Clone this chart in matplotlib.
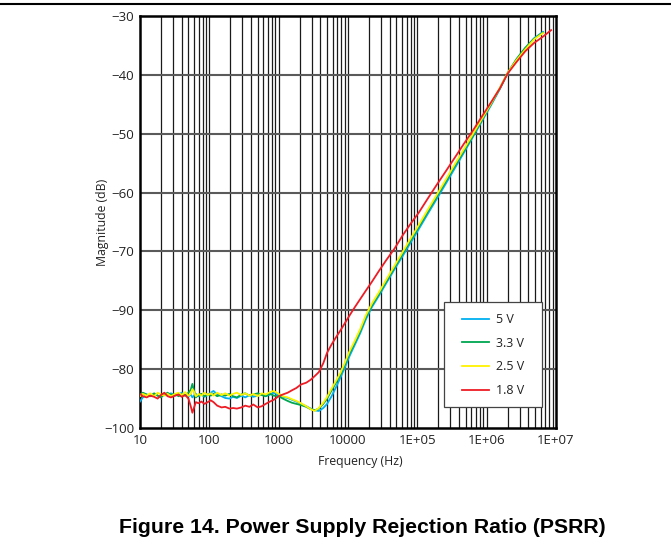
import numpy as np
import matplotlib
matplotlib.use("Agg")
import matplotlib.pyplot as plt
from matplotlib.lines import Line2D
from matplotlib.patches import Rectangle

# frequency grid (Hz)
freq = [10, 11, 12.5, 14, 16, 18, 20, 22.5, 25, 28, 32, 36, 40, 45, 50, 54, 57, 60, 64, 70,
        77, 85, 95, 105, 115, 130, 150, 170, 195, 220, 250, 290, 330, 380, 430, 500, 570, 650, 750, 850,
        1000, 1150, 1350, 1550, 1800, 2100, 2500, 2900, 3300, 3800, 4400, 5000, 5800, 6700, 7800, 9000,
        10500, 12500, 15000, 18000, 22000, 28000, 36000, 47000, 62000, 80000,
        1.05e5, 1.4e5, 1.9e5, 2.6e5, 3.5e5, 4.7e5, 6.3e5, 8.5e5, 1.15e6, 1.55e6,
        2.0e6, 2.7e6, 3.6e6, 4.8e6, 6.5e6, 8.5e6]

# magnitude, plotted on the chart's own (position) scale
v5 = [-95.5, -94.8, -94.3, -94.6, -94.2, -94.5, -94.7, -94.2, -94.4, -94.1, -94.5, -94.3, -94.0, -94.4, -94.6,
      -94.3, -94.8, -94.5, -94.2, -94.6, -94.3, -94.7, -94.4, -94.0, -93.7, -94.3, -94.6, -94.9, -95.0, -94.7,
      -94.9, -94.5, -94.8, -94.4, -94.7, -94.5, -94.2, -94.6, -94.3, -94.0, -94.4, -94.7, -94.9, -95.2, -95.5,
      -95.9, -96.3, -96.7, -97.0, -97.1, -96.6, -95.9, -94.6, -93.1, -91.4, -89.7, -87.8, -85.9, -83.9, -81.6,
      -79.5, -77.5, -75.3, -73.0, -70.7, -68.5, -66.2, -63.7, -61.1, -58.4, -55.8, -53.2, -50.6, -47.9, -45.2,
      -42.4, -39.8, -37.4, -35.5, -33.8, -32.7, np.nan]
v33 = [-94.4, -94.0, -94.3, -94.6, -94.1, -94.5, -94.8, -94.3, -94.0, -94.4, -94.2, -94.6, -94.3, -94.5, -94.0,
       -93.5, -92.5, -93.6, -94.8, -94.4, -94.2, -94.6, -94.3, -94.5, -94.2, -94.6, -94.3, -94.5, -94.2, -94.6,
       -94.8, -94.3, -94.1, -94.5, -94.3, -94.1, -94.4, -94.6, -94.2, -94.5, -94.6, -95.0, -95.4, -95.7, -95.9,
       -96.1, -96.4, -96.8, -97.0, -96.7, -95.9, -95.0, -93.6, -92.3, -90.9, -89.2, -87.3, -85.5, -83.5, -81.2,
       -79.2, -77.2, -75.0, -72.7, -70.3, -68.1, -65.8, -63.3, -60.7, -58.0, -55.4, -52.9, -50.4, -47.7, -45.0,
       -42.3, -39.7, -37.3, -35.4, -33.9, -32.8, np.nan]
v25 = [-94.6, -94.2, -94.5, -94.1, -94.6, -94.0, -94.3, -94.5, -94.2, -94.6, -94.2, -94.0, -94.4, -93.9, -94.5,
       -94.2, -93.4, -93.8, -94.6, -94.2, -94.5, -94.0, -94.4, -94.1, -94.5, -94.0, -94.4, -94.1, -94.5, -94.2,
       -94.0, -94.4, -94.1, -94.5, -94.2, -94.6, -94.1, -94.3, -93.9, -93.7, -94.2, -94.6, -94.8, -95.1, -95.4,
       -95.8, -96.3, -96.8, -97.1, -96.6, -95.7, -94.7, -93.3, -92.0, -90.6, -88.9, -87.0, -85.2, -83.2, -80.9,
       -78.9, -76.9, -74.7, -72.4, -70.0, -67.8, -65.5, -63.0, -60.4, -57.7, -55.1, -52.6, -50.1, -47.5, -44.9,
       -42.2, -39.7, -37.5, -35.7, -34.0, -32.9, np.nan]
v18 = [-94.2, -94.6, -94.8, -94.5, -94.7, -95.0, -94.4, -94.0, -94.6, -94.8, -94.5, -94.3, -94.7, -94.4, -95.0,
       -96.3, -97.4, -96.6, -95.6, -95.8, -95.5, -95.9, -95.6, -95.3, -95.6, -96.2, -96.5, -96.4, -96.7, -96.6,
       -96.7, -96.5, -96.2, -96.4, -96.0, -96.5, -96.3, -95.9, -95.5, -95.2, -94.6, -94.3, -94.0, -93.6, -93.2,
       -92.6, -92.3, -91.8, -91.2, -90.5, -89.0, -87.2, -85.8, -84.6, -83.4, -82.2, -80.9, -79.5, -78.1, -76.7,
       -75.2, -73.3, -71.4, -69.5, -67.2, -65.3, -63.4, -61.1, -58.7, -56.3, -54.0, -51.7, -49.5, -47.1, -44.7,
       -42.3, -39.8, -37.8, -36.0, -34.6, -33.5, -32.4]

series = [("5 V", v5, "#00B0F0"), ("3.3 V", v33, "#00A650"),
          ("2.5 V", v25, "#FFF200"), ("1.8 V", v18, "#EE1C25")]

yticks = [-100, -90, -80, -70, -60, -50, -40, -30]
ylabels = ["\u2212100", "\u221280", "\u221290", "\u221270", "\u221260", "\u221250", "\u221240", "\u221230"]
xticks = [10, 100, 1000, 10000, 1e5, 1e6, 1e7]
xlabels = ["10", "100", "1000", "10000", "1E+05", "1E+06", "1E+07"]

plt.rcParams["font.family"] = ["Open Sans", "DejaVu Sans"]

fig = plt.figure(figsize=(6.71, 5.54), dpi=100)
ax = fig.add_axes([0.2086, 0.2274, 0.620, 0.7437])

# grid: vertical lines at every 1..9 of each decade, horizontal at 10 dB steps
for d in range(1, 7):
    for m in range(1, 10):
        if d == 1 and m == 1:
            continue
        ax.axvline(m * 10 ** d, color="#1a1a1a", lw=0.9, zorder=1)
for y in yticks[1:-1]:
    ax.axhline(y, color="#5a5a5a", lw=1.5, zorder=1)

for name, vals, col in series:
    ax.plot(freq, vals, color=col, lw=1.3, label=name, zorder=3)

ax.set_xscale("log")
ax.set_xlim(10, 1e7)
ax.set_ylim(-100, -30)
ax.set_xticks(xticks)
ax.set_xticklabels(xlabels)
ax.xaxis.set_minor_locator(matplotlib.ticker.NullLocator())
ax.set_yticks(yticks)
ax.set_yticklabels(ylabels)
ax.tick_params(axis="both", length=0, labelsize=9.5, pad=4, colors="#222222")
for s in ax.spines.values():
    s.set_linewidth(1.8)
    s.set_color("black")

ax.set_xlabel("Frequency (Hz)", fontsize=8.8, labelpad=4, color="#222222")
ax.xaxis.set_label_coords(0.529, -0.065)
ax.set_ylabel("Magnitude (dB)", fontsize=8.8, color="#222222")
ax.yaxis.set_label_coords(-0.074, 0.5)

# legend box (white panel with thin border) and entries
ax.add_patch(Rectangle((0.731, 0.051), 0.235, 0.255, transform=ax.transAxes,
                       facecolor="white", edgecolor="#444444", lw=0.9, zorder=5))
leg = ax.legend(loc="upper left", bbox_to_anchor=(0.774, 0.279), fontsize=9,
                frameon=False, borderpad=0, labelspacing=0.85, handlelength=2.15,
                handletextpad=0.6, borderaxespad=0)
leg.set_zorder(6)
for t in leg.get_texts():
    t.set_color("#222222")

# page rule at top
fig.add_artist(Line2D([0, 1], [0.993, 0.993], transform=fig.transFigure, color="black", lw=1.5))

fig.text(0.54, 0.0487, "Figure 14. Power Supply Rejection Ratio (PSRR)", ha="center", va="center",
         fontsize=15.3, fontweight="bold", family="Liberation Sans")

fig.savefig("out.png", dpi=100)
